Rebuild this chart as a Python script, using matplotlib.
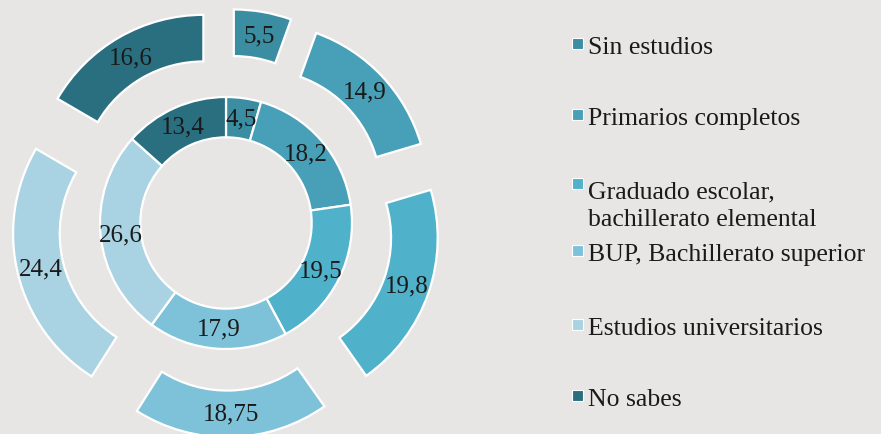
import numpy as np
import matplotlib.pyplot as plt
from matplotlib.patches import Rectangle

# data
categories = ['Sin estudios', 'Primarios completos',
              'Graduado escolar,\nbachillerato elemental',
              'BUP, Bachillerato superior', 'Estudios universitarios',
              'No sabes']
inner_values = [4.5, 18.2, 19.5, 17.9, 26.6, 13.4]
outer_values = [5.5, 14.9, 19.8, 18.75, 24.4, 16.6]
colors = ['#3b8da2', '#47a0b7', '#50b1ca', '#7dc2d9', '#a9d3e2', '#2a6f80']


def fmt(v):
    # spanish decimal comma
    return '{:g}'.format(v).replace('.', ',')


W, H = 881, 435
font = 'Liberation Serif'
txt_color = '#1a1a1a'

fig = plt.figure(figsize=(W / 100, H / 100), dpi=100)
fig.patch.set_facecolor('#e7e6e5')
ax = fig.add_axes([0, 0, 540 / W, 1])
ax.set_facecolor('none')

# outer ring, every piece pulled out
outer_r = 1.34
outer_w = 0.37
ax.pie(outer_values, radius=outer_r, colors=colors, startangle=90,
       counterclock=False, explode=[0.36] * len(outer_values),
       labels=[fmt(v) for v in outer_values],
       labeldistance=(outer_r - outer_w / 2) / outer_r,
       wedgeprops=dict(width=outer_w, edgecolor='white', linewidth=1.6),
       textprops=dict(ha='center', va='center', fontsize=18, family=font,
                      color=txt_color))

# inner ring
inner_r = 1.0
inner_w = 0.32
ax.pie(inner_values, radius=inner_r, colors=colors, startangle=90,
       counterclock=False,
       labels=[fmt(v) for v in inner_values],
       labeldistance=(inner_r - inner_w / 2) / inner_r,
       wedgeprops=dict(width=inner_w, edgecolor='white', linewidth=1.6),
       textprops=dict(ha='center', va='center', fontsize=18, family=font,
                      color=txt_color))

ax.set_xlim(-226 / 126, (540 - 226) / 126)
ax.set_ylim(-(H - 224) / 126, 224 / 126)
ax.set_aspect('equal')
ax.axis('off')

# legend drawn by hand (pixel rows from top)
row_y = [48, 119, 206, 255, 329, 400]
for i, name in enumerate(categories):
    y = row_y[i]
    sq_y = y - 3 if '\n' not in name else y - 21
    sq = Rectangle((572 / W, 1 - (sq_y + 5) / H), 11 / W, 11 / H,
                   transform=fig.transFigure, facecolor=colors[i],
                   edgecolor='white', linewidth=0.8)
    fig.add_artist(sq)
    fig.text(588 / W, 1 - y / H, name, fontsize=18.5, family=font,
             color=txt_color, ha='left', va='center', linespacing=1.3)

fig.savefig('out.png', dpi=100, facecolor=fig.get_facecolor())
